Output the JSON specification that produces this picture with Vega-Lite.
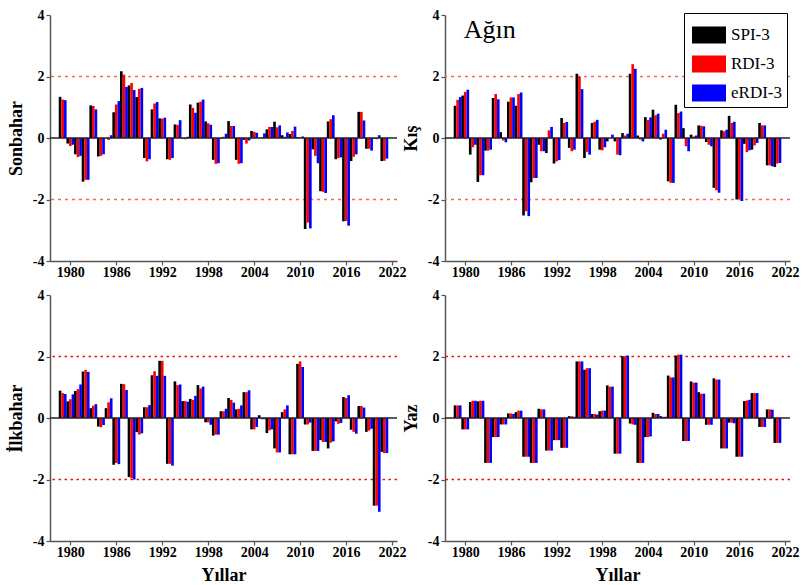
{
"$schema": "https://vega.github.io/schema/vega-lite/v6.json",
"padding": {"left": 7, "top": 8, "right": 10, "bottom": 2},
"background": "white",
"datasets": {
"son": [
{"yr":1979,"i":"SPI-3","v":1.34},{"yr":1979,"i":"RDI-3","v":1.25},{"yr":1979,"i":"eRDI-3","v":1.23},
{"yr":1980,"i":"SPI-3","v":-0.18},{"yr":1980,"i":"RDI-3","v":-0.26},{"yr":1980,"i":"eRDI-3","v":-0.22},
{"yr":1981,"i":"SPI-3","v":-0.53},{"yr":1981,"i":"RDI-3","v":-0.62},{"yr":1981,"i":"eRDI-3","v":-0.58},
{"yr":1982,"i":"SPI-3","v":-1.42},{"yr":1982,"i":"RDI-3","v":-1.36},{"yr":1982,"i":"eRDI-3","v":-1.36},
{"yr":1983,"i":"SPI-3","v":1.06},{"yr":1983,"i":"RDI-3","v":1.04},{"yr":1983,"i":"eRDI-3","v":0.93},
{"yr":1984,"i":"SPI-3","v":-0.60},{"yr":1984,"i":"RDI-3","v":-0.58},{"yr":1984,"i":"eRDI-3","v":-0.53},
{"yr":1985,"i":"SPI-3","v":-0.01},{"yr":1985,"i":"RDI-3","v":-0.06},{"yr":1985,"i":"eRDI-3","v":0.09},
{"yr":1986,"i":"SPI-3","v":0.84},{"yr":1986,"i":"RDI-3","v":1.09},{"yr":1986,"i":"eRDI-3","v":1.20},
{"yr":1987,"i":"SPI-3","v":2.17},{"yr":1987,"i":"RDI-3","v":2.06},{"yr":1987,"i":"eRDI-3","v":1.66},
{"yr":1988,"i":"SPI-3","v":1.71},{"yr":1988,"i":"RDI-3","v":1.79},{"yr":1988,"i":"eRDI-3","v":1.56},
{"yr":1989,"i":"SPI-3","v":1.33},{"yr":1989,"i":"RDI-3","v":1.60},{"yr":1989,"i":"eRDI-3","v":1.63},
{"yr":1990,"i":"SPI-3","v":-0.65},{"yr":1990,"i":"RDI-3","v":-0.76},{"yr":1990,"i":"eRDI-3","v":-0.69},
{"yr":1991,"i":"SPI-3","v":0.93},{"yr":1991,"i":"RDI-3","v":1.12},{"yr":1991,"i":"eRDI-3","v":1.17},
{"yr":1992,"i":"SPI-3","v":0.64},{"yr":1992,"i":"RDI-3","v":0.63},{"yr":1992,"i":"eRDI-3","v":0.66},
{"yr":1993,"i":"SPI-3","v":-0.69},{"yr":1993,"i":"RDI-3","v":-0.71},{"yr":1993,"i":"eRDI-3","v":-0.65},
{"yr":1994,"i":"SPI-3","v":0.44},{"yr":1994,"i":"RDI-3","v":0.43},{"yr":1994,"i":"eRDI-3","v":0.58},
{"yr":1995,"i":"SPI-3","v":-0.02},{"yr":1995,"i":"RDI-3","v":-0.04},{"yr":1995,"i":"eRDI-3","v":0.04},
{"yr":1996,"i":"SPI-3","v":1.09},{"yr":1996,"i":"RDI-3","v":0.98},{"yr":1996,"i":"eRDI-3","v":0.82},
{"yr":1997,"i":"SPI-3","v":1.15},{"yr":1997,"i":"RDI-3","v":1.18},{"yr":1997,"i":"eRDI-3","v":1.25},
{"yr":1998,"i":"SPI-3","v":0.54},{"yr":1998,"i":"RDI-3","v":0.48},{"yr":1998,"i":"eRDI-3","v":0.43},
{"yr":1999,"i":"SPI-3","v":-0.71},{"yr":1999,"i":"RDI-3","v":-0.84},{"yr":1999,"i":"eRDI-3","v":-0.82},
{"yr":2000,"i":"SPI-3","v":-0.02},{"yr":2000,"i":"RDI-3","v":0.04},{"yr":2000,"i":"eRDI-3","v":0.14},
{"yr":2001,"i":"SPI-3","v":0.55},{"yr":2001,"i":"RDI-3","v":0.39},{"yr":2001,"i":"eRDI-3","v":0.39},
{"yr":2002,"i":"SPI-3","v":-0.71},{"yr":2002,"i":"RDI-3","v":-0.84},{"yr":2002,"i":"eRDI-3","v":-0.82},
{"yr":2003,"i":"SPI-3","v":-0.06},{"yr":2003,"i":"RDI-3","v":-0.18},{"yr":2003,"i":"eRDI-3","v":-0.08},
{"yr":2004,"i":"SPI-3","v":0.23},{"yr":2004,"i":"RDI-3","v":0.20},{"yr":2004,"i":"eRDI-3","v":0.17},
{"yr":2005,"i":"SPI-3","v":0.00},{"yr":2005,"i":"RDI-3","v":0.02},{"yr":2005,"i":"eRDI-3","v":0.15},
{"yr":2006,"i":"SPI-3","v":0.28},{"yr":2006,"i":"RDI-3","v":0.36},{"yr":2006,"i":"eRDI-3","v":0.36},
{"yr":2007,"i":"SPI-3","v":0.53},{"yr":2007,"i":"RDI-3","v":0.35},{"yr":2007,"i":"eRDI-3","v":0.41},
{"yr":2008,"i":"SPI-3","v":0.09},{"yr":2008,"i":"RDI-3","v":0.04},{"yr":2008,"i":"eRDI-3","v":0.18},
{"yr":2009,"i":"SPI-3","v":0.13},{"yr":2009,"i":"RDI-3","v":0.23},{"yr":2009,"i":"eRDI-3","v":0.37},
{"yr":2010,"i":"SPI-3","v":0.03},{"yr":2010,"i":"RDI-3","v":0.01},{"yr":2010,"i":"eRDI-3","v":0.05},
{"yr":2011,"i":"SPI-3","v":-2.96},{"yr":2011,"i":"RDI-3","v":-2.75},{"yr":2011,"i":"eRDI-3","v":-2.94},
{"yr":2012,"i":"SPI-3","v":-0.37},{"yr":2012,"i":"RDI-3","v":-0.58},{"yr":2012,"i":"eRDI-3","v":-0.82},
{"yr":2013,"i":"SPI-3","v":-1.73},{"yr":2013,"i":"RDI-3","v":-1.75},{"yr":2013,"i":"eRDI-3","v":-1.79},
{"yr":2014,"i":"SPI-3","v":0.54},{"yr":2014,"i":"RDI-3","v":0.61},{"yr":2014,"i":"eRDI-3","v":0.74},
{"yr":2015,"i":"SPI-3","v":-0.69},{"yr":2015,"i":"RDI-3","v":-0.65},{"yr":2015,"i":"eRDI-3","v":-0.63},
{"yr":2016,"i":"SPI-3","v":-2.71},{"yr":2016,"i":"RDI-3","v":-2.70},{"yr":2016,"i":"eRDI-3","v":-2.85},
{"yr":2017,"i":"SPI-3","v":-0.75},{"yr":2017,"i":"RDI-3","v":-0.61},{"yr":2017,"i":"eRDI-3","v":-0.53},
{"yr":2018,"i":"SPI-3","v":0.85},{"yr":2018,"i":"RDI-3","v":0.85},{"yr":2018,"i":"eRDI-3","v":0.57},
{"yr":2019,"i":"SPI-3","v":-0.35},{"yr":2019,"i":"RDI-3","v":-0.35},{"yr":2019,"i":"eRDI-3","v":-0.41},
{"yr":2020,"i":"SPI-3","v":-0.02},{"yr":2020,"i":"RDI-3","v":-0.04},{"yr":2020,"i":"eRDI-3","v":0.09},
{"yr":2021,"i":"SPI-3","v":-0.75},{"yr":2021,"i":"RDI-3","v":-0.74},{"yr":2021,"i":"eRDI-3","v":-0.67}
],
"kis": [
{"yr":1979,"i":"SPI-3","v":1.05},{"yr":1979,"i":"RDI-3","v":1.24},{"yr":1979,"i":"eRDI-3","v":1.33},
{"yr":1980,"i":"SPI-3","v":1.38},{"yr":1980,"i":"RDI-3","v":1.50},{"yr":1980,"i":"eRDI-3","v":1.57},
{"yr":1981,"i":"SPI-3","v":-0.54},{"yr":1981,"i":"RDI-3","v":-0.30},{"yr":1981,"i":"eRDI-3","v":-0.22},
{"yr":1982,"i":"SPI-3","v":-1.43},{"yr":1982,"i":"RDI-3","v":-1.21},{"yr":1982,"i":"eRDI-3","v":-1.21},
{"yr":1983,"i":"SPI-3","v":-0.41},{"yr":1983,"i":"RDI-3","v":-0.41},{"yr":1983,"i":"eRDI-3","v":-0.38},
{"yr":1984,"i":"SPI-3","v":1.30},{"yr":1984,"i":"RDI-3","v":1.43},{"yr":1984,"i":"eRDI-3","v":1.26},
{"yr":1985,"i":"SPI-3","v":0.19},{"yr":1985,"i":"RDI-3","v":-0.08},{"yr":1985,"i":"eRDI-3","v":-0.14},
{"yr":1986,"i":"SPI-3","v":1.18},{"yr":1986,"i":"RDI-3","v":1.32},{"yr":1986,"i":"eRDI-3","v":1.32},
{"yr":1987,"i":"SPI-3","v":1.05},{"yr":1987,"i":"RDI-3","v":1.43},{"yr":1987,"i":"eRDI-3","v":1.48},
{"yr":1988,"i":"SPI-3","v":-2.52},{"yr":1988,"i":"RDI-3","v":-2.38},{"yr":1988,"i":"eRDI-3","v":-2.54},
{"yr":1989,"i":"SPI-3","v":-1.44},{"yr":1989,"i":"RDI-3","v":-1.30},{"yr":1989,"i":"eRDI-3","v":-1.30},
{"yr":1990,"i":"SPI-3","v":-0.22},{"yr":1990,"i":"RDI-3","v":-0.43},{"yr":1990,"i":"eRDI-3","v":-0.43},
{"yr":1991,"i":"SPI-3","v":-0.49},{"yr":1991,"i":"RDI-3","v":0.25},{"yr":1991,"i":"eRDI-3","v":0.36},
{"yr":1992,"i":"SPI-3","v":-0.83},{"yr":1992,"i":"RDI-3","v":-0.76},{"yr":1992,"i":"eRDI-3","v":-0.72},
{"yr":1993,"i":"SPI-3","v":0.65},{"yr":1993,"i":"RDI-3","v":0.49},{"yr":1993,"i":"eRDI-3","v":0.52},
{"yr":1994,"i":"SPI-3","v":-0.32},{"yr":1994,"i":"RDI-3","v":-0.43},{"yr":1994,"i":"eRDI-3","v":-0.38},
{"yr":1995,"i":"SPI-3","v":2.09},{"yr":1995,"i":"RDI-3","v":2.00},{"yr":1995,"i":"eRDI-3","v":1.59},
{"yr":1996,"i":"SPI-3","v":-0.65},{"yr":1996,"i":"RDI-3","v":-0.45},{"yr":1996,"i":"eRDI-3","v":-0.54},
{"yr":1997,"i":"SPI-3","v":0.49},{"yr":1997,"i":"RDI-3","v":0.53},{"yr":1997,"i":"eRDI-3","v":0.59},
{"yr":1998,"i":"SPI-3","v":-0.38},{"yr":1998,"i":"RDI-3","v":-0.40},{"yr":1998,"i":"eRDI-3","v":-0.30},
{"yr":1999,"i":"SPI-3","v":-0.11},{"yr":1999,"i":"RDI-3","v":0.00},{"yr":1999,"i":"eRDI-3","v":0.11},
{"yr":2000,"i":"SPI-3","v":-0.11},{"yr":2000,"i":"RDI-3","v":-0.54},{"yr":2000,"i":"eRDI-3","v":-0.56},
{"yr":2001,"i":"SPI-3","v":0.16},{"yr":2001,"i":"RDI-3","v":0.08},{"yr":2001,"i":"eRDI-3","v":0.14},
{"yr":2002,"i":"SPI-3","v":2.09},{"yr":2002,"i":"RDI-3","v":2.40},{"yr":2002,"i":"eRDI-3","v":2.25},
{"yr":2003,"i":"SPI-3","v":0.08},{"yr":2003,"i":"RDI-3","v":-0.05},{"yr":2003,"i":"eRDI-3","v":-0.11},
{"yr":2004,"i":"SPI-3","v":0.68},{"yr":2004,"i":"RDI-3","v":0.59},{"yr":2004,"i":"eRDI-3","v":0.67},
{"yr":2005,"i":"SPI-3","v":0.92},{"yr":2005,"i":"RDI-3","v":0.74},{"yr":2005,"i":"eRDI-3","v":0.79},
{"yr":2006,"i":"SPI-3","v":-0.05},{"yr":2006,"i":"RDI-3","v":0.14},{"yr":2006,"i":"eRDI-3","v":0.27},
{"yr":2007,"i":"SPI-3","v":-1.41},{"yr":2007,"i":"RDI-3","v":-1.46},{"yr":2007,"i":"eRDI-3","v":-1.46},
{"yr":2008,"i":"SPI-3","v":1.08},{"yr":2008,"i":"RDI-3","v":0.81},{"yr":2008,"i":"eRDI-3","v":0.86},
{"yr":2009,"i":"SPI-3","v":0.32},{"yr":2009,"i":"RDI-3","v":-0.27},{"yr":2009,"i":"eRDI-3","v":-0.43},
{"yr":2010,"i":"SPI-3","v":0.11},{"yr":2010,"i":"RDI-3","v":0.05},{"yr":2010,"i":"eRDI-3","v":0.08},
{"yr":2011,"i":"SPI-3","v":0.41},{"yr":2011,"i":"RDI-3","v":0.40},{"yr":2011,"i":"eRDI-3","v":0.38},
{"yr":2012,"i":"SPI-3","v":-0.13},{"yr":2012,"i":"RDI-3","v":-0.22},{"yr":2012,"i":"eRDI-3","v":-0.27},
{"yr":2013,"i":"SPI-3","v":-1.62},{"yr":2013,"i":"RDI-3","v":-1.70},{"yr":2013,"i":"eRDI-3","v":-1.78},
{"yr":2014,"i":"SPI-3","v":0.25},{"yr":2014,"i":"RDI-3","v":0.22},{"yr":2014,"i":"eRDI-3","v":0.27},
{"yr":2015,"i":"SPI-3","v":0.72},{"yr":2015,"i":"RDI-3","v":0.49},{"yr":2015,"i":"eRDI-3","v":0.53},
{"yr":2016,"i":"SPI-3","v":-2.00},{"yr":2016,"i":"RDI-3","v":-1.98},{"yr":2016,"i":"eRDI-3","v":-2.05},
{"yr":2017,"i":"SPI-3","v":-0.19},{"yr":2017,"i":"RDI-3","v":-0.46},{"yr":2017,"i":"eRDI-3","v":-0.40},
{"yr":2018,"i":"SPI-3","v":-0.38},{"yr":2018,"i":"RDI-3","v":-0.24},{"yr":2018,"i":"eRDI-3","v":-0.16},
{"yr":2019,"i":"SPI-3","v":0.49},{"yr":2019,"i":"RDI-3","v":0.41},{"yr":2019,"i":"eRDI-3","v":0.41},
{"yr":2020,"i":"SPI-3","v":-0.89},{"yr":2020,"i":"RDI-3","v":-0.89},{"yr":2020,"i":"eRDI-3","v":-0.92},
{"yr":2021,"i":"SPI-3","v":-0.94},{"yr":2021,"i":"RDI-3","v":-0.83},{"yr":2021,"i":"eRDI-3","v":-0.81}
],
"ilk": [
{"yr":1979,"i":"SPI-3","v":0.89},{"yr":1979,"i":"RDI-3","v":0.81},{"yr":1979,"i":"eRDI-3","v":0.78},
{"yr":1980,"i":"SPI-3","v":0.54},{"yr":1980,"i":"RDI-3","v":0.61},{"yr":1980,"i":"eRDI-3","v":0.77},
{"yr":1981,"i":"SPI-3","v":0.88},{"yr":1981,"i":"RDI-3","v":0.94},{"yr":1981,"i":"eRDI-3","v":1.09},
{"yr":1982,"i":"SPI-3","v":1.51},{"yr":1982,"i":"RDI-3","v":1.56},{"yr":1982,"i":"eRDI-3","v":1.50},
{"yr":1983,"i":"SPI-3","v":0.32},{"yr":1983,"i":"RDI-3","v":0.40},{"yr":1983,"i":"eRDI-3","v":0.45},
{"yr":1984,"i":"SPI-3","v":-0.28},{"yr":1984,"i":"RDI-3","v":-0.30},{"yr":1984,"i":"eRDI-3","v":-0.23},
{"yr":1985,"i":"SPI-3","v":0.32},{"yr":1985,"i":"RDI-3","v":0.51},{"yr":1985,"i":"eRDI-3","v":0.64},
{"yr":1986,"i":"SPI-3","v":-1.52},{"yr":1986,"i":"RDI-3","v":-1.46},{"yr":1986,"i":"eRDI-3","v":-1.50},
{"yr":1987,"i":"SPI-3","v":1.11},{"yr":1987,"i":"RDI-3","v":1.10},{"yr":1987,"i":"eRDI-3","v":0.91},
{"yr":1988,"i":"SPI-3","v":-1.92},{"yr":1988,"i":"RDI-3","v":-1.96},{"yr":1988,"i":"eRDI-3","v":-2.00},
{"yr":1989,"i":"SPI-3","v":-0.46},{"yr":1989,"i":"RDI-3","v":-0.54},{"yr":1989,"i":"eRDI-3","v":-0.50},
{"yr":1990,"i":"SPI-3","v":0.35},{"yr":1990,"i":"RDI-3","v":0.35},{"yr":1990,"i":"eRDI-3","v":0.42},
{"yr":1991,"i":"SPI-3","v":1.39},{"yr":1991,"i":"RDI-3","v":1.52},{"yr":1991,"i":"eRDI-3","v":1.37},
{"yr":1992,"i":"SPI-3","v":1.86},{"yr":1992,"i":"RDI-3","v":1.86},{"yr":1992,"i":"eRDI-3","v":1.37},
{"yr":1993,"i":"SPI-3","v":-1.49},{"yr":1993,"i":"RDI-3","v":-1.49},{"yr":1993,"i":"eRDI-3","v":-1.55},
{"yr":1994,"i":"SPI-3","v":1.19},{"yr":1994,"i":"RDI-3","v":1.07},{"yr":1994,"i":"eRDI-3","v":1.09},
{"yr":1995,"i":"SPI-3","v":0.55},{"yr":1995,"i":"RDI-3","v":0.55},{"yr":1995,"i":"eRDI-3","v":0.53},
{"yr":1996,"i":"SPI-3","v":0.62},{"yr":1996,"i":"RDI-3","v":0.59},{"yr":1996,"i":"eRDI-3","v":0.72},
{"yr":1997,"i":"SPI-3","v":1.07},{"yr":1997,"i":"RDI-3","v":0.96},{"yr":1997,"i":"eRDI-3","v":1.02},
{"yr":1998,"i":"SPI-3","v":-0.14},{"yr":1998,"i":"RDI-3","v":-0.14},{"yr":1998,"i":"eRDI-3","v":-0.22},
{"yr":1999,"i":"SPI-3","v":-0.57},{"yr":1999,"i":"RDI-3","v":-0.54},{"yr":1999,"i":"eRDI-3","v":-0.54},
{"yr":2000,"i":"SPI-3","v":0.22},{"yr":2000,"i":"RDI-3","v":0.22},{"yr":2000,"i":"eRDI-3","v":0.30},
{"yr":2001,"i":"SPI-3","v":0.65},{"yr":2001,"i":"RDI-3","v":0.59},{"yr":2001,"i":"eRDI-3","v":0.50},
{"yr":2002,"i":"SPI-3","v":0.28},{"yr":2002,"i":"RDI-3","v":0.30},{"yr":2002,"i":"eRDI-3","v":0.41},
{"yr":2003,"i":"SPI-3","v":0.84},{"yr":2003,"i":"RDI-3","v":0.84},{"yr":2003,"i":"eRDI-3","v":0.90},
{"yr":2004,"i":"SPI-3","v":-0.37},{"yr":2004,"i":"RDI-3","v":-0.37},{"yr":2004,"i":"eRDI-3","v":-0.29},
{"yr":2005,"i":"SPI-3","v":0.09},{"yr":2005,"i":"RDI-3","v":-0.04},{"yr":2005,"i":"eRDI-3","v":-0.04},
{"yr":2006,"i":"SPI-3","v":-0.49},{"yr":2006,"i":"RDI-3","v":-0.40},{"yr":2006,"i":"eRDI-3","v":-0.37},
{"yr":2007,"i":"SPI-3","v":-0.99},{"yr":2007,"i":"RDI-3","v":-1.12},{"yr":2007,"i":"eRDI-3","v":-1.12},
{"yr":2008,"i":"SPI-3","v":0.19},{"yr":2008,"i":"RDI-3","v":0.28},{"yr":2008,"i":"eRDI-3","v":0.41},
{"yr":2009,"i":"SPI-3","v":-1.18},{"yr":2009,"i":"RDI-3","v":-1.18},{"yr":2009,"i":"eRDI-3","v":-1.18},
{"yr":2010,"i":"SPI-3","v":1.76},{"yr":2010,"i":"RDI-3","v":1.84},{"yr":2010,"i":"eRDI-3","v":1.66},
{"yr":2011,"i":"SPI-3","v":-0.21},{"yr":2011,"i":"RDI-3","v":-0.21},{"yr":2011,"i":"eRDI-3","v":-0.15},
{"yr":2012,"i":"SPI-3","v":-1.07},{"yr":2012,"i":"RDI-3","v":-1.07},{"yr":2012,"i":"eRDI-3","v":-1.07},
{"yr":2013,"i":"SPI-3","v":-0.72},{"yr":2013,"i":"RDI-3","v":-0.78},{"yr":2013,"i":"eRDI-3","v":-0.78},
{"yr":2014,"i":"SPI-3","v":-0.99},{"yr":2014,"i":"RDI-3","v":-0.80},{"yr":2014,"i":"eRDI-3","v":-0.76},
{"yr":2015,"i":"SPI-3","v":-0.11},{"yr":2015,"i":"RDI-3","v":-0.19},{"yr":2015,"i":"eRDI-3","v":-0.16},
{"yr":2016,"i":"SPI-3","v":0.68},{"yr":2016,"i":"RDI-3","v":0.65},{"yr":2016,"i":"eRDI-3","v":0.74},
{"yr":2017,"i":"SPI-3","v":-0.38},{"yr":2017,"i":"RDI-3","v":-0.45},{"yr":2017,"i":"eRDI-3","v":-0.51},
{"yr":2018,"i":"SPI-3","v":0.39},{"yr":2018,"i":"RDI-3","v":0.39},{"yr":2018,"i":"eRDI-3","v":0.34},
{"yr":2019,"i":"SPI-3","v":-0.45},{"yr":2019,"i":"RDI-3","v":-0.41},{"yr":2019,"i":"eRDI-3","v":-0.35},
{"yr":2020,"i":"SPI-3","v":-2.85},{"yr":2020,"i":"RDI-3","v":-2.85},{"yr":2020,"i":"eRDI-3","v":-3.05},
{"yr":2021,"i":"SPI-3","v":-1.10},{"yr":2021,"i":"RDI-3","v":-1.14},{"yr":2021,"i":"eRDI-3","v":-1.14}
],
"yaz": [
{"yr":1979,"i":"SPI-3","v":0.41},{"yr":1979,"i":"RDI-3","v":0.41},{"yr":1979,"i":"eRDI-3","v":0.41},
{"yr":1980,"i":"SPI-3","v":-0.37},{"yr":1980,"i":"RDI-3","v":-0.37},{"yr":1980,"i":"eRDI-3","v":-0.37},
{"yr":1981,"i":"SPI-3","v":0.52},{"yr":1981,"i":"RDI-3","v":0.56},{"yr":1981,"i":"eRDI-3","v":0.56},
{"yr":1982,"i":"SPI-3","v":0.54},{"yr":1982,"i":"RDI-3","v":0.56},{"yr":1982,"i":"eRDI-3","v":0.56},
{"yr":1983,"i":"SPI-3","v":-1.46},{"yr":1983,"i":"RDI-3","v":-1.46},{"yr":1983,"i":"eRDI-3","v":-1.46},
{"yr":1984,"i":"SPI-3","v":-0.62},{"yr":1984,"i":"RDI-3","v":-0.62},{"yr":1984,"i":"eRDI-3","v":-0.62},
{"yr":1985,"i":"SPI-3","v":-0.21},{"yr":1985,"i":"RDI-3","v":-0.21},{"yr":1985,"i":"eRDI-3","v":-0.21},
{"yr":1986,"i":"SPI-3","v":0.15},{"yr":1986,"i":"RDI-3","v":0.15},{"yr":1986,"i":"eRDI-3","v":0.13},
{"yr":1987,"i":"SPI-3","v":0.19},{"yr":1987,"i":"RDI-3","v":0.24},{"yr":1987,"i":"eRDI-3","v":0.24},
{"yr":1988,"i":"SPI-3","v":-1.26},{"yr":1988,"i":"RDI-3","v":-1.26},{"yr":1988,"i":"eRDI-3","v":-1.26},
{"yr":1989,"i":"SPI-3","v":-1.46},{"yr":1989,"i":"RDI-3","v":-1.46},{"yr":1989,"i":"eRDI-3","v":-1.46},
{"yr":1990,"i":"SPI-3","v":0.30},{"yr":1990,"i":"RDI-3","v":0.28},{"yr":1990,"i":"eRDI-3","v":0.28},
{"yr":1991,"i":"SPI-3","v":-1.06},{"yr":1991,"i":"RDI-3","v":-1.06},{"yr":1991,"i":"eRDI-3","v":-1.06},
{"yr":1992,"i":"SPI-3","v":-0.72},{"yr":1992,"i":"RDI-3","v":-0.72},{"yr":1992,"i":"eRDI-3","v":-0.72},
{"yr":1993,"i":"SPI-3","v":-0.97},{"yr":1993,"i":"RDI-3","v":-0.97},{"yr":1993,"i":"eRDI-3","v":-0.97},
{"yr":1994,"i":"SPI-3","v":0.06},{"yr":1994,"i":"RDI-3","v":0.06},{"yr":1994,"i":"eRDI-3","v":0.04},
{"yr":1995,"i":"SPI-3","v":1.84},{"yr":1995,"i":"RDI-3","v":1.84},{"yr":1995,"i":"eRDI-3","v":1.84},
{"yr":1996,"i":"SPI-3","v":1.57},{"yr":1996,"i":"RDI-3","v":1.62},{"yr":1996,"i":"eRDI-3","v":1.62},
{"yr":1997,"i":"SPI-3","v":0.13},{"yr":1997,"i":"RDI-3","v":0.13},{"yr":1997,"i":"eRDI-3","v":0.11},
{"yr":1998,"i":"SPI-3","v":0.22},{"yr":1998,"i":"RDI-3","v":0.24},{"yr":1998,"i":"eRDI-3","v":0.24},
{"yr":1999,"i":"SPI-3","v":1.06},{"yr":1999,"i":"RDI-3","v":1.02},{"yr":1999,"i":"eRDI-3","v":1.02},
{"yr":2000,"i":"SPI-3","v":-1.16},{"yr":2000,"i":"RDI-3","v":-1.16},{"yr":2000,"i":"eRDI-3","v":-1.16},
{"yr":2001,"i":"SPI-3","v":2.01},{"yr":2001,"i":"RDI-3","v":2.01},{"yr":2001,"i":"eRDI-3","v":2.03},
{"yr":2002,"i":"SPI-3","v":-0.18},{"yr":2002,"i":"RDI-3","v":-0.21},{"yr":2002,"i":"eRDI-3","v":-0.22},
{"yr":2003,"i":"SPI-3","v":-1.46},{"yr":2003,"i":"RDI-3","v":-1.46},{"yr":2003,"i":"eRDI-3","v":-1.46},
{"yr":2004,"i":"SPI-3","v":-0.62},{"yr":2004,"i":"RDI-3","v":-0.62},{"yr":2004,"i":"eRDI-3","v":-0.60},
{"yr":2005,"i":"SPI-3","v":0.17},{"yr":2005,"i":"RDI-3","v":0.13},{"yr":2005,"i":"eRDI-3","v":0.13},
{"yr":2006,"i":"SPI-3","v":0.06},{"yr":2006,"i":"RDI-3","v":0.04},{"yr":2006,"i":"eRDI-3","v":0.04},
{"yr":2007,"i":"SPI-3","v":1.38},{"yr":2007,"i":"RDI-3","v":1.32},{"yr":2007,"i":"eRDI-3","v":1.32},
{"yr":2008,"i":"SPI-3","v":2.03},{"yr":2008,"i":"RDI-3","v":2.06},{"yr":2008,"i":"eRDI-3","v":2.06},
{"yr":2009,"i":"SPI-3","v":-0.75},{"yr":2009,"i":"RDI-3","v":-0.75},{"yr":2009,"i":"eRDI-3","v":-0.75},
{"yr":2010,"i":"SPI-3","v":1.19},{"yr":2010,"i":"RDI-3","v":1.15},{"yr":2010,"i":"eRDI-3","v":1.15},
{"yr":2011,"i":"SPI-3","v":0.84},{"yr":2011,"i":"RDI-3","v":0.79},{"yr":2011,"i":"eRDI-3","v":0.79},
{"yr":2012,"i":"SPI-3","v":-0.22},{"yr":2012,"i":"RDI-3","v":-0.22},{"yr":2012,"i":"eRDI-3","v":-0.22},
{"yr":2013,"i":"SPI-3","v":1.29},{"yr":2013,"i":"RDI-3","v":1.25},{"yr":2013,"i":"eRDI-3","v":1.25},
{"yr":2014,"i":"SPI-3","v":-0.99},{"yr":2014,"i":"RDI-3","v":-0.99},{"yr":2014,"i":"eRDI-3","v":-0.99},
{"yr":2015,"i":"SPI-3","v":-0.15},{"yr":2015,"i":"RDI-3","v":-0.15},{"yr":2015,"i":"eRDI-3","v":-0.17},
{"yr":2016,"i":"SPI-3","v":-1.26},{"yr":2016,"i":"RDI-3","v":-1.26},{"yr":2016,"i":"eRDI-3","v":-1.26},
{"yr":2017,"i":"SPI-3","v":0.55},{"yr":2017,"i":"RDI-3","v":0.57},{"yr":2017,"i":"eRDI-3","v":0.59},
{"yr":2018,"i":"SPI-3","v":0.81},{"yr":2018,"i":"RDI-3","v":0.81},{"yr":2018,"i":"eRDI-3","v":0.81},
{"yr":2019,"i":"SPI-3","v":-0.29},{"yr":2019,"i":"RDI-3","v":-0.29},{"yr":2019,"i":"eRDI-3","v":-0.29},
{"yr":2020,"i":"SPI-3","v":0.28},{"yr":2020,"i":"RDI-3","v":0.28},{"yr":2020,"i":"eRDI-3","v":0.27},
{"yr":2021,"i":"SPI-3","v":-0.81},{"yr":2021,"i":"RDI-3","v":-0.81},{"yr":2021,"i":"eRDI-3","v":-0.81}
]
},
"concat": [
{
"width": 347, "height": 246,
"data": {"name": "son"},
"layer": [
{"data": {"values": [{}]}, "mark": {"type": "rule", "color": "#ff6060", "strokeDash": [3, 4], "strokeWidth": 1.6}, "encoding": {"y": {"datum": 2, "type": "quantitative", "scale": {"domain": [-4, 4], "nice": false, "zero": false}}}},
{"data": {"values": [{}]}, "mark": {"type": "rule", "color": "#ff6060", "strokeDash": [3, 4], "strokeWidth": 1.6}, "encoding": {"y": {"datum": -2, "type": "quantitative", "scale": {"domain": [-4, 4], "nice": false, "zero": false}}}},
{"transform": [{"filter": "datum.i === 'SPI-3'"}], "mark": {"type": "bar", "width": 2.65, "xOffset": -2.6, "color": "#000000"},
 "encoding": {
  "x": {"field": "yr", "type": "quantitative", "scale": {"domain": [1978, 2022], "nice": false, "zero": false}, "axis": {"title": null, "values": [1980,1983,1986,1989,1992,1995,1998,2001,2004,2007,2010,2013,2016,2019,2022], "labelExpr": "(datum.value - 1980) % 6 === 0 ? '' + datum.value : ''", "labelFlush": false, "labelOverlap": false, "tickSize": {"condition": {"test": "(datum.value - 1980) % 6 === 0", "value": 4}, "value": 2}}},
  "y": {"field": "v", "type": "quantitative", "scale": {"domain": [-4, 4], "nice": false, "zero": false}, "axis": {"title": "Sonbahar", "values": [-4,-3,-2,-1,0,1,2,3,4], "labelExpr": "datum.value % 2 === 0 ? '' + datum.value : ''", "labelOverlap": false, "tickSize": {"condition": {"test": "datum.value % 2 === 0", "value": 4}, "value": 2}}}
 }},
{"transform": [{"filter": "datum.i === 'RDI-3'"}], "mark": {"type": "bar", "width": 2.65, "xOffset": 0, "color": "#ff0000"},
 "encoding": {"x": {"field": "yr", "type": "quantitative", "scale": {"domain": [1978, 2022], "nice": false, "zero": false}}, "y": {"field": "v", "type": "quantitative", "scale": {"domain": [-4, 4], "nice": false, "zero": false}}}},
{"transform": [{"filter": "datum.i === 'eRDI-3'"}], "mark": {"type": "bar", "width": 2.65, "xOffset": 2.6, "color": "#0000ff"},
 "encoding": {"x": {"field": "yr", "type": "quantitative", "scale": {"domain": [1978, 2022], "nice": false, "zero": false}}, "y": {"field": "v", "type": "quantitative", "scale": {"domain": [-4, 4], "nice": false, "zero": false}}}},
{"data": {"values": [{}]}, "mark": {"type": "rule", "color": "#222222", "strokeWidth": 1.5}, "encoding": {"y": {"datum": 0, "type": "quantitative", "scale": {"domain": [-4, 4], "nice": false, "zero": false}}}}
]
},
{
"width": 345, "height": 246,
"data": {"name": "kis"},
"layer": [
{"data": {"values": [{}]}, "mark": {"type": "rule", "color": "#ff6060", "strokeDash": [3, 4], "strokeWidth": 1.6}, "encoding": {"y": {"datum": 2, "type": "quantitative", "scale": {"domain": [-4, 4], "nice": false, "zero": false}}}},
{"data": {"values": [{}]}, "mark": {"type": "rule", "color": "#ff6060", "strokeDash": [3, 4], "strokeWidth": 1.6}, "encoding": {"y": {"datum": -2, "type": "quantitative", "scale": {"domain": [-4, 4], "nice": false, "zero": false}}}},
{"transform": [{"filter": "datum.i === 'SPI-3'"}], "mark": {"type": "bar", "width": 2.65, "xOffset": -2.6},
 "encoding": {
  "x": {"field": "yr", "type": "quantitative", "scale": {"domain": [1978, 2022], "nice": false, "zero": false}, "axis": {"title": null, "values": [1980,1983,1986,1989,1992,1995,1998,2001,2004,2007,2010,2013,2016,2019,2022], "labelExpr": "(datum.value - 1980) % 6 === 0 ? '' + datum.value : ''", "labelFlush": false, "labelOverlap": false, "tickSize": {"condition": {"test": "(datum.value - 1980) % 6 === 0", "value": 4}, "value": 2}}},
  "y": {"field": "v", "type": "quantitative", "scale": {"domain": [-4, 4], "nice": false, "zero": false}, "axis": {"title": "Kış", "values": [-4,-3,-2,-1,0,1,2,3,4], "labelExpr": "datum.value % 2 === 0 ? '' + datum.value : ''", "labelOverlap": false, "tickSize": {"condition": {"test": "datum.value % 2 === 0", "value": 4}, "value": 2}}},
  "color": {"field": "i", "type": "nominal", "scale": {"domain": ["SPI-3", "RDI-3", "eRDI-3"], "range": ["#000000", "#ff0000", "#0000ff"]}, "legend": {"title": null, "orient": "none", "legendX": 239, "legendY": -2, "symbolType": "M-1,-0.5H1V0.5H-1Z", "symbolSize": 1156, "symbolStrokeWidth": 0, "symbolOpacity": 1, "labelFont": "Liberation Serif", "labelFontSize": 17, "labelFontWeight": "normal", "labelColor": "#000000", "strokeColor": "#000000", "fillColor": "#ffffff", "padding": 5, "rowPadding": 3, "labelOffset": 5, "symbolOffset": 3}}
 }},
{"transform": [{"filter": "datum.i === 'RDI-3'"}], "mark": {"type": "bar", "width": 2.65, "xOffset": 0},
 "encoding": {"x": {"field": "yr", "type": "quantitative", "scale": {"domain": [1978, 2022], "nice": false, "zero": false}}, "y": {"field": "v", "type": "quantitative", "scale": {"domain": [-4, 4], "nice": false, "zero": false}},
  "color": {"field": "i", "type": "nominal", "scale": {"domain": ["SPI-3", "RDI-3", "eRDI-3"], "range": ["#000000", "#ff0000", "#0000ff"]}, "legend": {"title": null, "orient": "none", "legendX": 239, "legendY": -2, "symbolType": "M-1,-0.5H1V0.5H-1Z", "symbolSize": 1156, "symbolStrokeWidth": 0, "symbolOpacity": 1, "labelFont": "Liberation Serif", "labelFontSize": 17, "labelFontWeight": "normal", "labelColor": "#000000", "strokeColor": "#000000", "fillColor": "#ffffff", "padding": 5, "rowPadding": 3, "labelOffset": 5, "symbolOffset": 3}}}},
{"transform": [{"filter": "datum.i === 'eRDI-3'"}], "mark": {"type": "bar", "width": 2.65, "xOffset": 2.6},
 "encoding": {"x": {"field": "yr", "type": "quantitative", "scale": {"domain": [1978, 2022], "nice": false, "zero": false}}, "y": {"field": "v", "type": "quantitative", "scale": {"domain": [-4, 4], "nice": false, "zero": false}},
  "color": {"field": "i", "type": "nominal", "scale": {"domain": ["SPI-3", "RDI-3", "eRDI-3"], "range": ["#000000", "#ff0000", "#0000ff"]}, "legend": {"title": null, "orient": "none", "legendX": 239, "legendY": -2, "symbolType": "M-1,-0.5H1V0.5H-1Z", "symbolSize": 1156, "symbolStrokeWidth": 0, "symbolOpacity": 1, "labelFont": "Liberation Serif", "labelFontSize": 17, "labelFontWeight": "normal", "labelColor": "#000000", "strokeColor": "#000000", "fillColor": "#ffffff", "padding": 5, "rowPadding": 3, "labelOffset": 5, "symbolOffset": 3}}}},
{"data": {"values": [{}]}, "mark": {"type": "rule", "color": "#222222", "strokeWidth": 1.5}, "encoding": {"y": {"datum": 0, "type": "quantitative", "scale": {"domain": [-4, 4], "nice": false, "zero": false}}}},
{"data": {"values": [{}]}, "mark": {"type": "text", "text": "Ağın", "font": "Liberation Serif", "fontSize": 26, "align": "left", "baseline": "alphabetic", "color": "#000000"}, "encoding": {"x": {"datum": 1979.8, "type": "quantitative", "scale": {"domain": [1978, 2022], "nice": false, "zero": false}}, "y": {"datum": 3.25, "type": "quantitative", "scale": {"domain": [-4, 4], "nice": false, "zero": false}}}}
]
},
{
"width": 347, "height": 246,
"data": {"name": "ilk"},
"layer": [
{"data": {"values": [{}]}, "mark": {"type": "rule", "color": "#ee1111", "strokeDash": [2.5, 3.5], "strokeWidth": 1.3}, "encoding": {"y": {"datum": 2, "type": "quantitative", "scale": {"domain": [-4, 4], "nice": false, "zero": false}}}},
{"data": {"values": [{}]}, "mark": {"type": "rule", "color": "#ee1111", "strokeDash": [2.5, 3.5], "strokeWidth": 1.3}, "encoding": {"y": {"datum": -2, "type": "quantitative", "scale": {"domain": [-4, 4], "nice": false, "zero": false}}}},
{"transform": [{"filter": "datum.i === 'SPI-3'"}], "mark": {"type": "bar", "width": 2.65, "xOffset": -2.6, "color": "#000000"},
 "encoding": {
  "x": {"field": "yr", "type": "quantitative", "scale": {"domain": [1978, 2022], "nice": false, "zero": false}, "axis": {"title": "Yıllar", "values": [1980,1983,1986,1989,1992,1995,1998,2001,2004,2007,2010,2013,2016,2019,2022], "labelExpr": "(datum.value - 1980) % 6 === 0 ? '' + datum.value : ''", "labelFlush": false, "labelOverlap": false, "tickSize": {"condition": {"test": "(datum.value - 1980) % 6 === 0", "value": 4}, "value": 2}}},
  "y": {"field": "v", "type": "quantitative", "scale": {"domain": [-4, 4], "nice": false, "zero": false}, "axis": {"title": "İlkbahar", "values": [-4,-3,-2,-1,0,1,2,3,4], "labelExpr": "datum.value % 2 === 0 ? '' + datum.value : ''", "labelOverlap": false, "tickSize": {"condition": {"test": "datum.value % 2 === 0", "value": 4}, "value": 2}}}
 }},
{"transform": [{"filter": "datum.i === 'RDI-3'"}], "mark": {"type": "bar", "width": 2.65, "xOffset": 0, "color": "#ff0000"},
 "encoding": {"x": {"field": "yr", "type": "quantitative", "scale": {"domain": [1978, 2022], "nice": false, "zero": false}}, "y": {"field": "v", "type": "quantitative", "scale": {"domain": [-4, 4], "nice": false, "zero": false}}}},
{"transform": [{"filter": "datum.i === 'eRDI-3'"}], "mark": {"type": "bar", "width": 2.65, "xOffset": 2.6, "color": "#0000ff"},
 "encoding": {"x": {"field": "yr", "type": "quantitative", "scale": {"domain": [1978, 2022], "nice": false, "zero": false}}, "y": {"field": "v", "type": "quantitative", "scale": {"domain": [-4, 4], "nice": false, "zero": false}}}},
{"data": {"values": [{}]}, "mark": {"type": "rule", "color": "#222222", "strokeWidth": 1.5}, "encoding": {"y": {"datum": 0, "type": "quantitative", "scale": {"domain": [-4, 4], "nice": false, "zero": false}}}}
]
},
{
"width": 345, "height": 246,
"data": {"name": "yaz"},
"layer": [
{"data": {"values": [{}]}, "mark": {"type": "rule", "color": "#ee1111", "strokeDash": [2.5, 3.5], "strokeWidth": 1.3}, "encoding": {"y": {"datum": 2, "type": "quantitative", "scale": {"domain": [-4, 4], "nice": false, "zero": false}}}},
{"data": {"values": [{}]}, "mark": {"type": "rule", "color": "#ee1111", "strokeDash": [2.5, 3.5], "strokeWidth": 1.3}, "encoding": {"y": {"datum": -2, "type": "quantitative", "scale": {"domain": [-4, 4], "nice": false, "zero": false}}}},
{"transform": [{"filter": "datum.i === 'SPI-3'"}], "mark": {"type": "bar", "width": 2.65, "xOffset": -2.6, "color": "#000000"},
 "encoding": {
  "x": {"field": "yr", "type": "quantitative", "scale": {"domain": [1978, 2022], "nice": false, "zero": false}, "axis": {"title": "Yıllar", "values": [1980,1983,1986,1989,1992,1995,1998,2001,2004,2007,2010,2013,2016,2019,2022], "labelExpr": "(datum.value - 1980) % 6 === 0 ? '' + datum.value : ''", "labelFlush": false, "labelOverlap": false, "tickSize": {"condition": {"test": "(datum.value - 1980) % 6 === 0", "value": 4}, "value": 2}}},
  "y": {"field": "v", "type": "quantitative", "scale": {"domain": [-4, 4], "nice": false, "zero": false}, "axis": {"title": "Yaz", "values": [-4,-3,-2,-1,0,1,2,3,4], "labelExpr": "datum.value % 2 === 0 ? '' + datum.value : ''", "labelOverlap": false, "tickSize": {"condition": {"test": "datum.value % 2 === 0", "value": 4}, "value": 2}}}
 }},
{"transform": [{"filter": "datum.i === 'RDI-3'"}], "mark": {"type": "bar", "width": 2.65, "xOffset": 0, "color": "#ff0000"},
 "encoding": {"x": {"field": "yr", "type": "quantitative", "scale": {"domain": [1978, 2022], "nice": false, "zero": false}}, "y": {"field": "v", "type": "quantitative", "scale": {"domain": [-4, 4], "nice": false, "zero": false}}}},
{"transform": [{"filter": "datum.i === 'eRDI-3'"}], "mark": {"type": "bar", "width": 2.65, "xOffset": 2.6, "color": "#0000ff"},
 "encoding": {"x": {"field": "yr", "type": "quantitative", "scale": {"domain": [1978, 2022], "nice": false, "zero": false}}, "y": {"field": "v", "type": "quantitative", "scale": {"domain": [-4, 4], "nice": false, "zero": false}}}},
{"data": {"values": [{}]}, "mark": {"type": "rule", "color": "#222222", "strokeWidth": 1.5}, "encoding": {"y": {"datum": 0, "type": "quantitative", "scale": {"domain": [-4, 4], "nice": false, "zero": false}}}}
]
}
],
"columns": 2,
"spacing": {"row": 34, "column": 48},
"bounds": "flush",
"resolve": {"scale": {"color": "independent"}, "legend": {"color": "independent"}},
"config": {
 "view": {"stroke": null},
 "axis": {"domainColor": "#555555", "domainWidth": 1.5, "tickColor": "#555555", "tickWidth": 1.2, "labelFont": "Liberation Serif", "labelFontWeight": "bold", "labelFontSize": 14, "labelColor": "#000000", "titleFont": "Liberation Serif", "titleFontWeight": "bold", "titleFontSize": 18, "titleColor": "#000000", "grid": false, "labelPadding": 2},
 "axisY": {"titlePadding": 7},
 "axisX": {"titlePadding": 7, "labelPadding": 0}
}
}
